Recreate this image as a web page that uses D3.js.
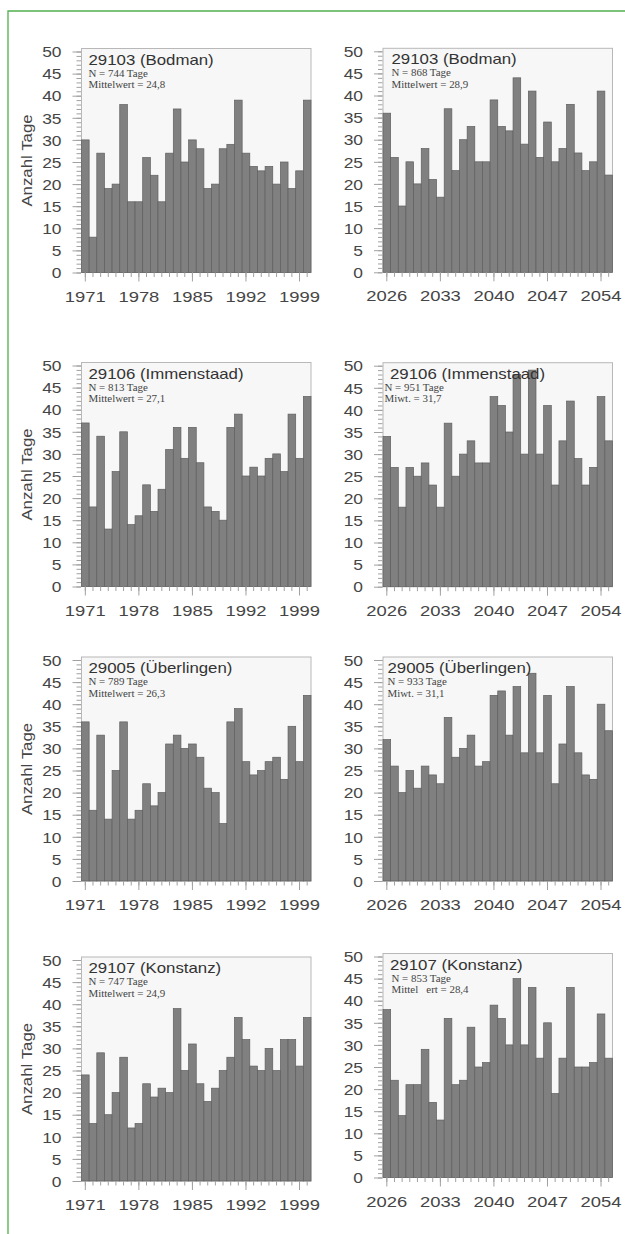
<!DOCTYPE html>
<html>
<head>
<meta charset="utf-8">
<script src="https://cdn.jsdelivr.net/npm/d3@7"></script>
<style>
  html, body { margin: 0; padding: 0; background: #fff; }
  svg { display: block; }
</style>
</head>
<body>
<svg id="chart" width="625" height="1234"></svg>
<script>
// ---- Data: number of days per year, four Lake Constance stations ----
const stations = ["29103 (Bodman)", "29106 (Immenstaad)", "29005 (Überlingen)", "29107 (Konstanz)"];

const yearsPast = [1971, 1972, 1973, 1974, 1975, 1976, 1977, 1978, 1979, 1980,
                   1981, 1982, 1983, 1984, 1985, 1986, 1987, 1988, 1989, 1990,
                   1991, 1992, 1993, 1994, 1995, 1996, 1997, 1998, 1999, 2000];
const yearsFuture = [2026, 2027, 2028, 2029, 2030, 2031, 2032, 2033, 2034, 2035,
                     2036, 2037, 2038, 2039, 2040, 2041, 2042, 2043, 2044, 2045,
                     2046, 2047, 2048, 2049, 2050, 2051, 2052, 2053, 2054, 2055];

const ticksPast = [1971, 1978, 1985, 1992, 1999];
const ticksFuture = [2026, 2033, 2040, 2047, 2054];
const yTicks = [0, 5, 10, 15, 20, 25, 30, 35, 40, 45, 50];
const yMinorTicks = d3.range(0, 51);

const bodmanPast = [30, 8, 27, 19, 20, 38, 16, 16, 26, 22, 16, 27, 37, 25, 30, 28, 19, 20, 28, 29, 39, 27, 24, 23, 24, 20, 25, 19, 23, 39];
const bodmanFuture = [36, 26, 15, 25, 20, 28, 21, 17, 37, 23, 30, 33, 25, 25, 39, 33, 32, 44, 29, 41, 26, 34, 25, 28, 38, 27, 23, 25, 41, 22];
const immenstaadPast = [37, 18, 34, 13, 26, 35, 14, 16, 23, 17, 22, 31, 36, 29, 36, 28, 18, 17, 15, 36, 39, 25, 27, 25, 29, 30, 26, 39, 29, 43];
const immenstaadFuture = [34, 27, 18, 27, 25, 28, 23, 18, 37, 25, 30, 33, 28, 28, 43, 41, 35, 48, 30, 49, 30, 41, 23, 33, 42, 29, 23, 27, 43, 33];
const ueberlingenPast = [36, 16, 33, 14, 25, 36, 14, 16, 22, 17, 20, 31, 33, 30, 31, 28, 21, 20, 13, 36, 39, 27, 24, 25, 27, 28, 23, 35, 27, 42];
const ueberlingenFuture = [32, 26, 20, 25, 21, 26, 24, 22, 37, 28, 30, 33, 26, 27, 42, 43, 33, 44, 29, 47, 29, 42, 22, 31, 44, 29, 24, 23, 40, 34];
const konstanzPast = [24, 13, 29, 15, 20, 28, 12, 13, 22, 19, 21, 20, 39, 25, 31, 22, 18, 21, 25, 28, 37, 32, 26, 25, 30, 25, 32, 32, 26, 37];
const konstanzFuture = [38, 22, 14, 21, 21, 29, 17, 13, 36, 21, 22, 34, 25, 26, 39, 36, 30, 45, 30, 43, 27, 35, 19, 27, 43, 25, 25, 26, 37, 27];

const statsPast = [
  ["N = 744 Tage", "Mittelwert = 24,8"],
  ["N = 813 Tage", "Mittelwert = 27,1"],
  ["N = 789 Tage", "Mittelwert = 26,3"],
  ["N = 747 Tage", "Mittelwert = 24,9"]
];
const statsFuture = [
  ["N = 868 Tage", "Mittelwert = 28,9"],
  ["N = 951 Tage", "Miwt. = 31,7"],
  ["N = 933 Tage", "Miwt. = 31,1"],
  ["N = 853 Tage", "Mittel   ert = 28,4"]
];

const seriesPast = [bodmanPast, immenstaadPast, ueberlingenPast, konstanzPast];
const seriesFuture = [bodmanFuture, immenstaadFuture, ueberlingenFuture, konstanzFuture];
const yLabel = "Anzahl Tage";

// ---- Layout ----
const W = 625, H = 1234;
const boxH = 224;          // plot frame height
const pxPerDay = 4.42;     // vertical scale
const sans = "'Liberation Sans', Arial, Helvetica, sans-serif";
const serif = "'Liberation Serif', 'Times New Roman', serif";

const columns = [
  { x0: 81.5, x1: 311, years: yearsPast, ticks: ticksPast, series: seriesPast, stats: statsPast,
    base: [272.5, 586.5, 881, 1181], titleDx: [7, 7, 7, 7], subDx: [7, 7, 7, 7], axisTitle: true },
  { x0: 383, x1: 612.5, years: yearsFuture, ticks: ticksFuture, series: seriesFuture, stats: statsFuture,
    base: [272.3, 586.7, 881, 1177.5], titleDx: [8.5, 7, 4.5, 7], subDx: [8.5, 1.5, 4.5, 8.5], axisTitle: false }
];

const svg = d3.select("#chart");
svg.append("rect").attr("width", W).attr("height", H).attr("fill", "#fff");

// green page frame
svg.append("path")
  .attr("d", `M8,${H}V11H${W}`)
  .attr("fill", "none")
  .attr("stroke", "#4fb04c")
  .attr("stroke-width", 1.3);

function drawPanel(col, row) {
  const years = col.years;
  const values = col.series[row];
  const y0 = col.base[row];
  const top = y0 - boxH;
  const g = svg.append("g").attr("class", "panel");

  const x = d3.scaleBand().domain(years).range([col.x0, col.x1]).padding(0);
  const y = d3.scaleLinear().domain([0, boxH / pxPerDay]).range([y0, top]);

  // plot frame
  g.append("rect")
    .attr("x", col.x0).attr("y", top)
    .attr("width", col.x1 - col.x0).attr("height", boxH)
    .attr("fill", "#f7f7f7")
    .attr("stroke", "#b8b8b8")
    .attr("stroke-width", 1);

  // bars
  g.append("g").selectAll("rect")
    .data(values)
    .join("rect")
    .attr("x", (d, i) => x(years[i]))
    .attr("y", d => y(d))
    .attr("width", x.bandwidth())
    .attr("height", d => y(0) - y(d))
    .attr("fill", "#808080")
    .attr("stroke", "#5e5e5e")
    .attr("stroke-width", 0.7);

  // y axis: minor + major ticks
  const yMinor = g.append("g")
    .attr("transform", `translate(${col.x0 - 0.5},0)`)
    .call(d3.axisLeft(y).tickValues(yMinorTicks).tickSize(4.5).tickFormat(""));
  yMinor.select(".domain").remove();
  yMinor.selectAll("line").attr("stroke", "#a0a0a0");

  const yMajor = g.append("g")
    .attr("transform", `translate(${col.x0 - 0.5},0)`)
    .call(d3.axisLeft(y).tickValues(yTicks).tickSize(8.5).tickPadding(0));
  yMajor.select(".domain").remove();
  yMajor.selectAll("line").attr("stroke", "#a0a0a0");
  yMajor.selectAll("text")
    .attr("x", 0).attr("dy", "0.36em")
    .attr("transform", "translate(-19.5,0) scale(1.2,1)")
    .attr("fill", "#454545")
    .style("font-family", sans)
    .style("font-size", "14.5px");

  // x axis: a tick for every year, longer ones with labels
  const xMinor = g.append("g")
    .attr("transform", `translate(0,${y0})`)
    .call(d3.axisBottom(x).tickSize(4.5).tickFormat(""));
  xMinor.select(".domain").remove();
  xMinor.selectAll("line").attr("stroke", "#a0a0a0");

  const xMajor = g.append("g")
    .attr("transform", `translate(0,${y0})`)
    .call(d3.axisBottom(x).tickValues(col.ticks).tickSize(9));
  xMajor.select(".domain").remove();
  xMajor.selectAll("line").attr("stroke", "#a0a0a0");
  xMajor.selectAll("text")
    .attr("y", 0).attr("dy", 0)
    .attr("transform", "translate(0,29) scale(1.27,1)")
    .attr("fill", "#454545")
    .style("font-family", sans)
    .style("font-size", "14.5px");

  // station title and statistics
  const tx = col.x0 + col.titleDx[row];
  const sx = col.x0 + col.subDx[row];
  g.append("text")
    .attr("transform", `translate(${tx},${top + 16}) scale(1.16,1)`)
    .attr("fill", "#333")
    .style("font-family", sans)
    .style("font-size", "14.5px")
    .text(stations[row]);
  col.stats[row].forEach((line, k) => {
    g.append("text")
      .attr("transform", `translate(${sx},${top + 28 + k * 11.5}) scale(1.15,1)`)
      .attr("fill", "#444")
      .style("font-family", serif)
      .style("font-size", "9.5px")
      .style("white-space", "pre")
      .text(line);
  });

  // y axis title
  if (col.axisTitle) {
    g.append("text")
      .attr("transform", `translate(27,${top + boxH / 2}) rotate(-90) scale(1.16,1)`)
      .attr("text-anchor", "middle")
      .attr("dy", "0.35em")
      .attr("fill", "#454545")
      .style("font-family", sans)
      .style("font-size", "14.5px")
      .text(yLabel);
  }
}

columns.forEach(col => {
  for (let row = 0; row < stations.length; row++) drawPanel(col, row);
});
</script>
</body>
</html>
